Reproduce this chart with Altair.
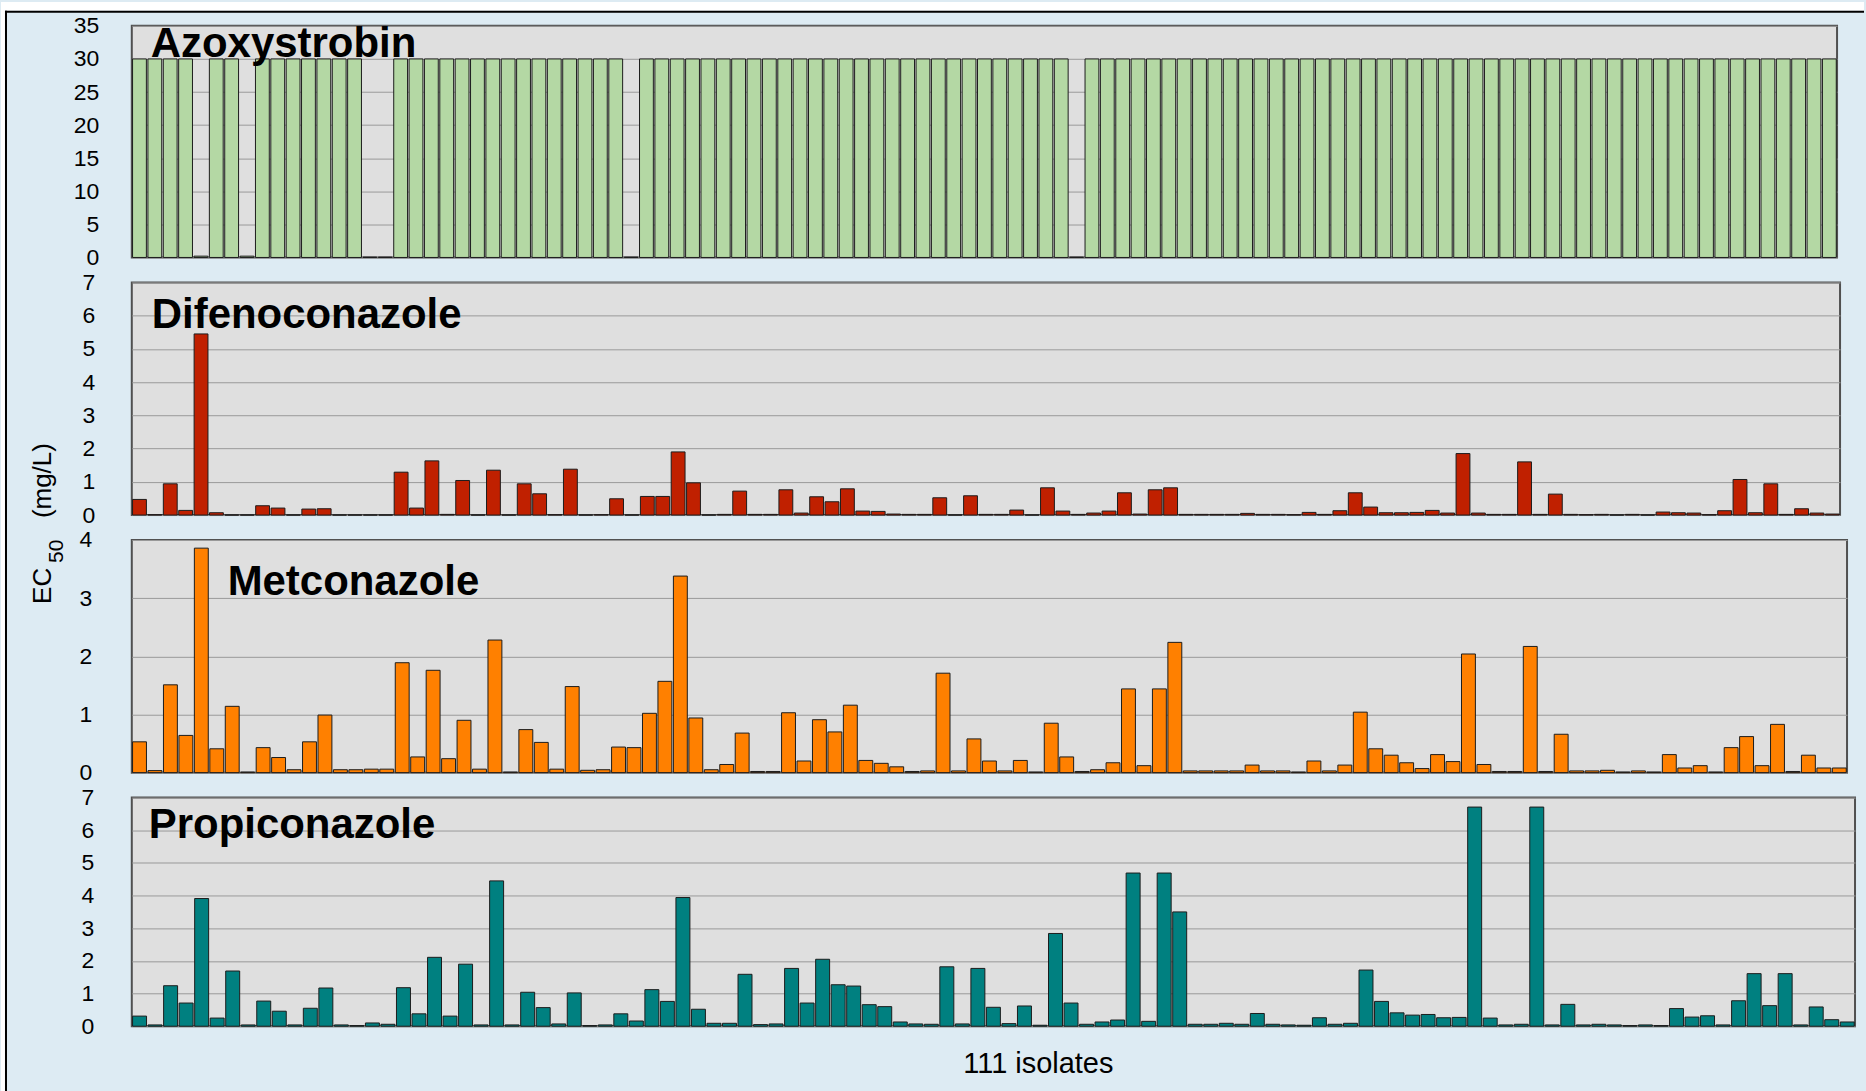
import altair as alt
import pandas as pd

FONT = "Liberation Sans"

isolates = list(range(1, 112))

azoxystrobin = [
    30, 30, 30, 30, 0.2, 30, 30, 0.2, 30, 30,
    30, 30, 30, 30, 30, 0.05, 0.05, 30, 30, 30,
    30, 30, 30, 30, 30, 30, 30, 30, 30, 30,
    30, 30, 0.05, 30, 30, 30, 30, 30, 30, 30,
    30, 30, 30, 30, 30, 30, 30, 30, 30, 30,
    30, 30, 30, 30, 30, 30, 30, 30, 30, 30,
    30, 0.05, 30, 30, 30, 30, 30, 30, 30, 30,
    30, 30, 30, 30, 30, 30, 30, 30, 30, 30,
    30, 30, 30, 30, 30, 30, 30, 30, 30, 30,
    30, 30, 30, 30, 30, 30, 30, 30, 30, 30,
    30, 30, 30, 30, 30, 30, 30, 30, 30, 30,
    30,
]

difenoconazole = [
    0.47, 0.01, 0.94, 0.14, 5.45, 0.07, 0.0, 0.0, 0.28, 0.21,
    0.0, 0.18, 0.19, 0.0, 0.0, 0.0, 0.0, 1.29, 0.21, 1.63,
    0.02, 1.04, 0.0, 1.35, 0.0, 0.94, 0.64, 0.01, 1.38, 0.0,
    0.01, 0.49, 0.0, 0.56, 0.56, 1.90, 0.97, 0.0, 0.02, 0.72,
    0.02, 0.02, 0.76, 0.06, 0.55, 0.40, 0.79, 0.12, 0.11, 0.03,
    0.02, 0.02, 0.52, 0.0, 0.58, 0.02, 0.02, 0.15, 0.0, 0.82,
    0.12, 0.02, 0.06, 0.12, 0.67, 0.03, 0.76, 0.82, 0.02, 0.02,
    0.02, 0.02, 0.05, 0.02, 0.02, 0.01, 0.08, 0.02, 0.13, 0.67,
    0.24, 0.07, 0.07, 0.08, 0.14, 0.06, 1.85, 0.06, 0.02, 0.02,
    1.60, 0.02, 0.63, 0.02, 0.01, 0.02, 0.0, 0.02, 0.0, 0.09,
    0.07, 0.06, 0.01, 0.13, 1.07, 0.07, 0.94, 0.02, 0.19, 0.06,
    0.03,
]

metconazole = [
    0.53, 0.035, 1.51, 0.64, 3.86, 0.41, 1.14, 0.01, 0.43, 0.26,
    0.05, 0.53, 0.99, 0.05, 0.05, 0.06, 0.06, 1.89, 0.27, 1.76,
    0.24, 0.90, 0.06, 2.28, 0.01, 0.74, 0.52, 0.06, 1.48, 0.04,
    0.05, 0.44, 0.43, 1.02, 1.57, 3.38, 0.94, 0.05, 0.14, 0.68,
    0.02, 0.02, 1.03, 0.20, 0.91, 0.70, 1.16, 0.21, 0.16, 0.10,
    0.02, 0.03, 1.71, 0.03, 0.58, 0.20, 0.03, 0.21, 0.01, 0.85,
    0.27, 0.02, 0.05, 0.17, 1.44, 0.12, 1.44, 2.24, 0.03, 0.03,
    0.03, 0.03, 0.13, 0.03, 0.03, 0.01, 0.20, 0.03, 0.13, 1.04,
    0.41, 0.30, 0.17, 0.07, 0.31, 0.19, 2.04, 0.14, 0.02, 0.02,
    2.17, 0.02, 0.66, 0.03, 0.03, 0.04, 0.01, 0.03, 0.01, 0.31,
    0.08, 0.12, 0.01, 0.43, 0.62, 0.12, 0.83, 0.02, 0.30, 0.08,
    0.08,
]

propiconazole = [
    0.31, 0.04, 1.24, 0.71, 3.91, 0.25, 1.69, 0.04, 0.77, 0.46,
    0.04, 0.55, 1.17, 0.04, 0.02, 0.10, 0.06, 1.18, 0.38, 2.11,
    0.31, 1.90, 0.04, 4.45, 0.04, 1.04, 0.57, 0.07, 1.02, 0.02,
    0.04, 0.38, 0.16, 1.12, 0.76, 3.94, 0.52, 0.09, 0.09, 1.59,
    0.05, 0.07, 1.77, 0.71, 2.05, 1.27, 1.23, 0.66, 0.60, 0.13,
    0.07, 0.06, 1.82, 0.07, 1.77, 0.58, 0.08, 0.62, 0.03, 2.84,
    0.71, 0.06, 0.13, 0.19, 4.69, 0.15, 4.69, 3.50, 0.06, 0.06,
    0.09, 0.06, 0.39, 0.06, 0.04, 0.03, 0.26, 0.06, 0.09, 1.72,
    0.76, 0.41, 0.34, 0.36, 0.26, 0.27, 6.71, 0.25, 0.04, 0.06,
    6.71, 0.04, 0.67, 0.04, 0.06, 0.04, 0.02, 0.04, 0.02, 0.54,
    0.28, 0.32, 0.04, 0.78, 1.61, 0.63, 1.61, 0.04, 0.59, 0.20,
    0.13,
]

one_row = pd.DataFrame({"k": [0]})


def text_at(text, x, y, size, bold=False, angle=0, align="left"):
    return alt.Chart(pd.DataFrame({"t": [text]})).mark_text(
        font=FONT, fontSize=size, fontWeight="bold" if bold else "normal",
        align=align, baseline="alphabetic", angle=angle, color="black",
    ).encode(text="t:N", x=alt.value(x), y=alt.value(y))


def panel(values, name, color, ymax, ticks, width, height, name_x, name_y,
          label_pad, extra_under=(), extra_over=()):
    df = pd.DataFrame({"isolate": isolates, "ec50": values})
    bars = alt.Chart(df).mark_bar(
        color=color, stroke="#1c1c1c", strokeWidth=1
    ).encode(
        x=alt.X("isolate:O", axis=None,
                scale=alt.Scale(paddingInner=0.1, paddingOuter=0.05)),
        y=alt.Y("ec50:Q", title=None,
                scale=alt.Scale(domain=[0, ymax], nice=False, zero=True),
                axis=alt.Axis(values=ticks, labelPadding=label_pad, format="d")),
    )
    label = text_at(name, name_x, name_y, 42, bold=True)
    return alt.layer(*extra_under, bars, label, *extra_over).properties(
        width=width, height=height
    )


# page margin strips and the black frame line around the figure
frame = [
    alt.Chart(one_row).mark_rect(color="white").encode(
        x=alt.value(-131), x2=alt.value(1735), y=alt.value(-24), y2=alt.value(-15)),
    alt.Chart(one_row).mark_rect(color="white").encode(
        x=alt.value(-131), x2=alt.value(-127), y=alt.value(-24), y2=alt.value(1067)),
    alt.Chart(one_row).mark_rule(color="black", strokeWidth=2).encode(
        x=alt.value(-127), x2=alt.value(1735), y=alt.value(-14)),
    alt.Chart(one_row).mark_rule(color="black", strokeWidth=2).encode(
        x=alt.value(-126), y=alt.value(-15), y2=alt.value(1067)),
]

# rotated y title "EC50 (mg/L)" with a subscript
y_title = [
    text_at("EC", -81, 322, 26, angle=270),
    text_at("50", -69, 281, 21, angle=270),
    text_at("(mg/L)", -81, 236, 26, angle=270),
]

x_title = [text_at("111 isolates", 908, 276, 29, align="center")]

p1 = panel(azoxystrobin, "Azoxystrobin", "#B4D8A4", 35, [0, 5, 10, 15, 20, 25, 30, 35],
           1708, 232, 19, 31, 33, extra_under=frame)
p2 = panel(difenoconazole, "Difenoconazole", "#C02000", 7, [0, 1, 2, 3, 4, 5, 6, 7],
           1711, 233, 20, 46, 37, extra_over=y_title)
p3 = panel(metconazole, "Metconazole", "#FF8000", 4, [0, 1, 2, 3, 4],
           1718, 233, 96, 55, 40)
p4 = panel(propiconazole, "Propiconazole", "#008080", 7, [0, 1, 2, 3, 4, 5, 6, 7],
           1726, 229, 17, 40, 38, extra_over=x_title)

chart = alt.vconcat(p1, p2, p3, p4, spacing=25, bounds="flush").properties(
    background="#DDEBF3", padding=0
).configure_axis(
    labelFont=FONT, labelFontSize=23, labelColor="black",
    ticks=False, domain=False, gridColor="#9a9a9a", gridWidth=1,
).configure_view(
    fill="#DFDFDF", stroke="#505050", strokeWidth=2,
)

chart.save("out.html", embed_options={"renderer": "svg", "actions": False})
